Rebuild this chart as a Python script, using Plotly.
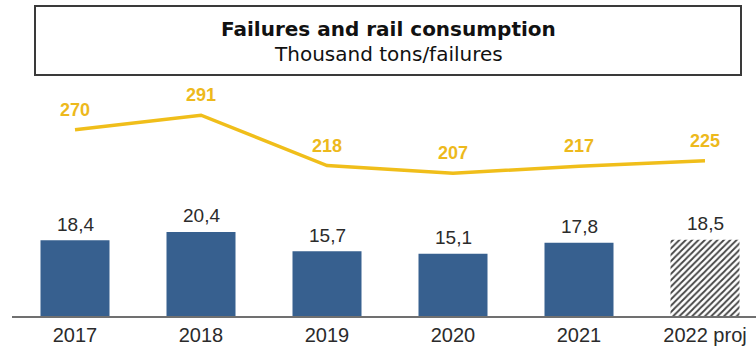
import plotly.graph_objects as go

# Data
years = ["2017", "2018", "2019", "2020", "2021", "2022 proj"]
rail_consumption = [18.4, 20.4, 15.7, 15.1, 17.8, 18.5]   # thousand tons (bars)
failures = [270, 291, 218, 207, 217, 225]                 # failures (line)

W, H = 756, 346
M_L, M_R, M_T, M_B = 12, 0, 80, 30
PW, PH = W - M_L - M_R, H - M_T - M_B
CAT_W = 126  # pixels per category


def px_x(x):
    return (x - M_L) / PW


def px_y(y):
    return (H - M_B - y) / PH


BLUE = "#37608F"
GOLD = "#F0BE1A"
GOLD_TXT = "#EDB91C"
GREY_TXT = "#2b2b2b"

bar_colors = [BLUE] * (len(years) - 1) + ["white"]
bar_shapes = [""] * (len(years) - 1) + ["/"]
idx = list(range(len(years)))

fig = go.Figure()

fig.add_trace(go.Bar(
    x=idx, y=rail_consumption,
    marker=dict(
        color=bar_colors,
        line=dict(width=0),
        pattern=dict(shape=bar_shapes, fgcolor="#2a2a2a", fgopacity=1,
                     size=4.5, solidity=0.4, fillmode="overlay"),
    ),
    hoverinfo="skip", showlegend=False,
))

fig.add_trace(go.Scatter(
    x=idx, y=failures, yaxis="y2", mode="lines",
    line=dict(color=GOLD, width=3.5),
    hoverinfo="skip", showlegend=False,
))

annotations = []
for i, v in zip(idx, rail_consumption):
    annotations.append(dict(
        x=i, y=v, xref="x", yref="y", text=f"{v:.1f}".replace(".", ","),
        showarrow=False, yanchor="middle", yshift=16,
        font=dict(family="Liberation Sans, Arial", size=19, color=GREY_TXT),
    ))
for i, v in zip(idx, failures):
    annotations.append(dict(
        x=i, y=v, xref="x", yref="y2", text=f"<b>{v}</b>",
        showarrow=False, yanchor="middle", yshift=20,
        font=dict(family="Liberation Sans, Arial", size=18, color=GOLD_TXT),
    ))

# Heading inside a framed box
annotations.append(dict(
    x=px_x(388), y=px_y(29), xref="paper", yref="paper",
    text="<b>Failures and rail consumption</b>", showarrow=False,
    xanchor="center", yanchor="middle",
    font=dict(family="DejaVu Sans", size=20, color="#111111"),
))
annotations.append(dict(
    x=px_x(388), y=px_y(54), xref="paper", yref="paper",
    text="Thousand tons/failures", showarrow=False,
    xanchor="center", yanchor="middle",
    font=dict(family="DejaVu Sans", size=20, color="#111111"),
))

fig.update_layout(
    width=W, height=H,
    margin=dict(l=M_L, r=M_R, t=M_T, b=M_B),
    paper_bgcolor="white", plot_bgcolor="white",
    bargap=1 - 69 / CAT_W,
    xaxis=dict(
        range=[-0.5, -0.5 + PW / CAT_W],
        tickmode="array", tickvals=idx, ticktext=years,
        showline=True, linecolor="#707070", linewidth=2,
        showgrid=False, ticks="", zeroline=False,
        tickfont=dict(family="Liberation Sans, Arial", size=20, color=GREY_TXT),
    ),
    yaxis=dict(range=[0, PH / 4.12], visible=False, showgrid=False),
    yaxis2=dict(range=[0, PH / 0.69], overlaying="y", visible=False,
                showgrid=False),
    annotations=annotations,
    shapes=[dict(
        type="rect", xref="paper", yref="paper",
        x0=px_x(35), x1=px_x(741), y0=px_y(75), y1=px_y(6),
        line=dict(color="#3a3a3a", width=2), fillcolor="rgba(0,0,0,0)",
    )],
)

fig.write_html("out.html", config={"displayModeBar": False})
